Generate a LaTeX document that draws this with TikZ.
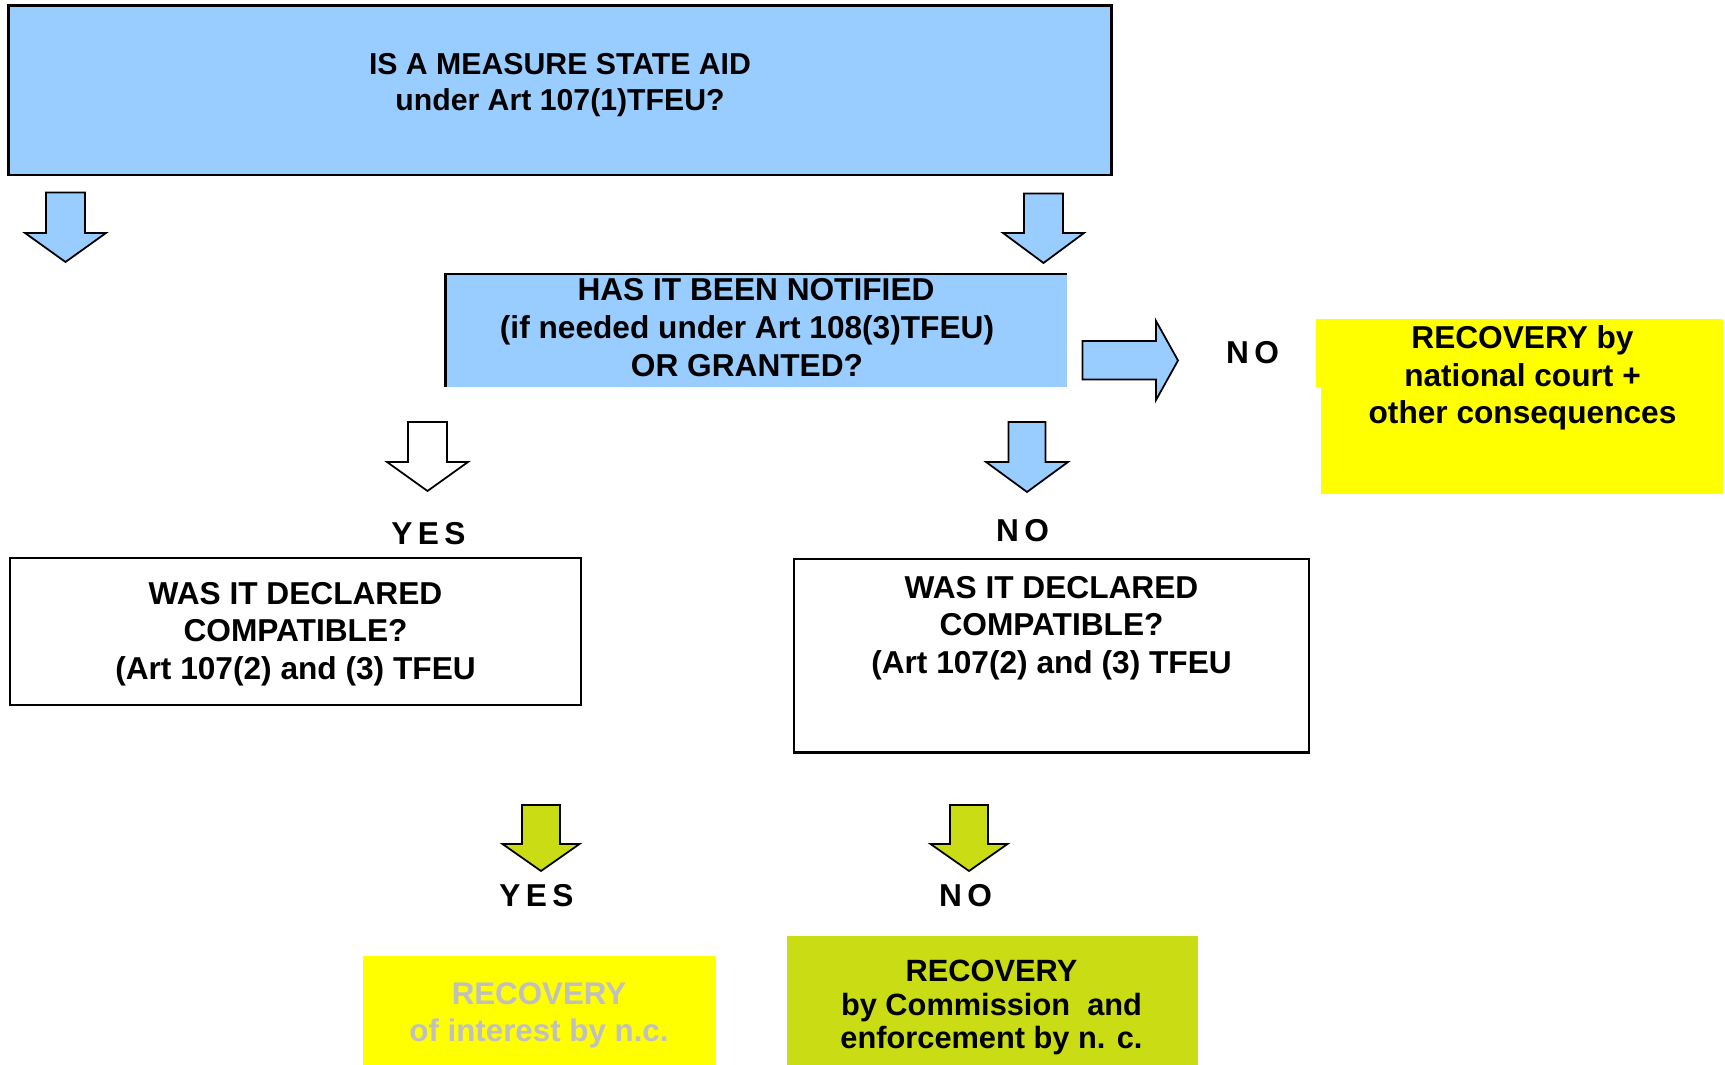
\documentclass[tikz,border=0pt]{standalone}
\usepackage{fontspec}
\setmainfont{Liberation Sans}
\newfontfamily\spacedfont[LetterSpace=17]{Liberation Sans}
\definecolor{skyblue}{HTML}{99CCFF}
\definecolor{brightyellow}{HTML}{FFFF00}
\definecolor{limegreen}{HTML}{CADC14}
\definecolor{paletext}{HTML}{C0C0C0}
\tikzset{
  qbox/.style={draw=black, line width=0.75pt, inner sep=0pt, outer sep=0pt},
  flat/.style={inner sep=0pt, outer sep=0pt},
  txt/.style={align=center, inner sep=0pt, font=\bfseries\fontsize{9}{10.7}\selectfont},
  answer/.style={inner sep=0pt, font=\spacedfont\bfseries\fontsize{9}{10.7}\selectfont},
  bluearrow/.style={draw=black, line width=0.5pt, fill=skyblue, line join=miter},
  whitearrow/.style={draw=black, line width=0.5pt, fill=white, line join=miter},
  greenarrow/.style={draw=black, line width=0.5pt, fill=limegreen, line join=miter},
}
% downward block arrow: style, centre x, top, head start, tip, shaft half width, head half width
\newcommand\blockdown[7]{%
  \draw[#1] ({#2-#6},#3) -- ({#2+#6},#3) -- ({#2+#6},#4) -- ({#2+#7},#4)
    -- (#2,#5) -- ({#2-#7},#4) -- ({#2-#6},#4) -- cycle;}
\begin{document}
\begin{tikzpicture}[x=0.01cm, y=-0.01cm]
\useasboundingbox (0,0) rectangle (1725,1065);

% question: is it state aid
\node[qbox, fill=skyblue, minimum width=11.02cm, minimum height=1.695cm] (aid) at (560,90.25) {};
\node[txt, font=\bfseries\fontsize{8.6}{10.3}\selectfont] (aidtxt) at (560,85)
  {IS A MEASURE STATE AID\\under Art 107(1)TFEU?};

% question: notified or granted
\node[flat, fill=skyblue, minimum width=6.215cm, minimum height=1.13cm] (notif) at (756.25,330.5) {};
\draw[line width=0.75pt] (notif.south west) -- (notif.north west) -- (notif.north east);
\node[txt] (notiftxt) at (747,327.5)
  {\hspace*{0.18cm}HAS IT BEEN NOTIFIED\\(if needed under Art 108(3)TFEU)\\OR GRANTED?};

% consequence of non-notification
\fill[brightyellow] (1316,319) rectangle (1322,387);
\node[flat, fill=brightyellow, minimum width=4.02cm, minimum height=1.75cm] (natcourt) at (1522,406.5) {};
\node[txt] (natcourttxt) at (1522.5,378)
  {RECOVERY by\\national court +\\other consequences};

% compatibility questions
\node[qbox, fill=white, minimum width=5.71cm, minimum height=1.47cm] (compyes) at (295.5,631.5) {};
\node[txt] (compyestxt) at (295.5,634)
  {WAS IT DECLARED\\COMPATIBLE?\\(Art 107(2) and (3) TFEU};
\node[qbox, fill=white, minimum width=5.15cm, minimum height=1.935cm] (compno) at (1051.5,655.75) {};
\node[txt] (compnotxt) at (1051.5,628)
  {WAS IT DECLARED\\COMPATIBLE?\\(Art 107(2) and (3) TFEU};

% recovery outcomes
\node[flat, fill=brightyellow, minimum width=3.53cm, minimum height=1.09cm] (interest) at (539.5,1010.5) {};
\node[txt, text=paletext, font=\bfseries\fontsize{8.9}{10.6}\selectfont] (interesttxt) at (539,1015)
  {RECOVERY\\of interest by n.c.};
\node[flat, fill=limegreen, minimum width=4.11cm, minimum height=1.29cm] (commission) at (992.5,1000.5) {};
\node[txt, font=\bfseries\fontsize{8.75}{9.5}\selectfont] (commissiontxt) at (991.5,1007.5)
  {RECOVERY\\by Commission\ \ and\\enforcement by n. c.};

% block arrows
\blockdown{bluearrow}{65.5}{192.5}{233}{262}{19.5}{40.5}
\blockdown{bluearrow}{1043.5}{193.5}{233}{263}{19.5}{40.5}
\blockdown{whitearrow}{427.5}{422}{462}{491}{19.5}{40.5}
\blockdown{bluearrow}{1027}{422}{462}{492}{18.5}{41}
\blockdown{greenarrow}{541}{805}{844}{871}{19}{38.5}
\blockdown{greenarrow}{969}{805}{844}{871}{19}{38.5}
\draw[bluearrow] (1082.5,341) -- (1156,341) -- (1156,321) -- (1178,360.5)
  -- (1156,400) -- (1156,379.5) -- (1082.5,379.5) -- cycle;

% answers
\node[answer] (yes1) at (428.5,533.5) {YES};
\node[answer] (no1) at (1022.5,530.5) {NO};
\node[answer] (no2) at (1252.5,352.5) {NO};
\node[answer] (yes2) at (536.5,896) {YES};
\node[answer] (no3) at (965.5,896) {NO};
\end{tikzpicture}
\end{document}
